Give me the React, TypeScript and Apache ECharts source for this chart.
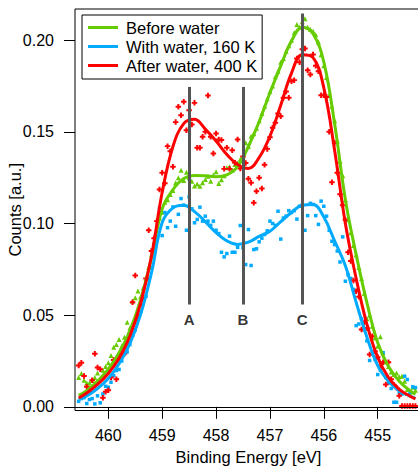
import React, { useEffect, useRef } from "react";
import * as echarts from "echarts";

const FONT = "'Liberation Sans', Arial, Helvetica, sans-serif";

// Measured spectra: energy grid (eV) shared by the three scans
const scanStart = 460.55;
const scanStep = 0.05;
const scanCount = 126;

const beforeWaterCounts = [
  0.0160, 0.0182, 0.0145, 0.0130, 0.0130, 0.0144, 0.0160, 0.0185, 0.0150, 0.0200,
  0.0220, 0.0240, 0.0280, 0.0325, 0.0340, 0.0367, 0.0330, 0.0380, 0.0461, 0.0430,
  0.0576, 0.0595, 0.0632, 0.0600, 0.0650, 0.0700, 0.0760, 0.0830, 0.0900, 0.0960,
  0.1030, 0.1062, 0.1116, 0.1130, 0.1158, 0.1180, 0.1222, 0.1250, 0.1291, 0.1234,
  0.1280, 0.1250, 0.1230, 0.1204, 0.1215, 0.1203, 0.1222, 0.1240, 0.1258, 0.1230,
  0.1265, 0.1282, 0.1218, 0.1238, 0.1260, 0.1304, 0.1309, 0.1290, 0.1322, 0.1330,
  0.1350, 0.1367, 0.1440, 0.1420, 0.1476, 0.1490, 0.1520, 0.1560, 0.1600, 0.1640,
  0.1680, 0.1720, 0.1750, 0.1800, 0.1830, 0.1880, 0.1900, 0.1940, 0.1970, 0.2000,
  0.2040, 0.2086, 0.2070, 0.2100, 0.2117, 0.2070, 0.2060, 0.2049, 0.2030, 0.1990,
  0.1920, 0.1860, 0.1797, 0.1700, 0.1640, 0.1560, 0.1450, 0.1340, 0.1260, 0.1130,
  0.1020, 0.0950, 0.0880, 0.0830, 0.0760, 0.0700, 0.0620, 0.0480, 0.0500, 0.0440,
  0.0376, 0.0330, 0.0382, 0.0295, 0.0245, 0.0220, 0.0190, 0.0176, 0.0185, 0.0164,
  0.0167, 0.0140, 0.0094, 0.0080, 0.0107, 0.0090,
];

const withWaterCounts = [
  0.0030, 0.0045, 0.0050, 0.0018, 0.0040, 0.0045, 0.0016, 0.0060, 0.0022, 0.0070,
  0.0112, 0.0107, 0.0134, 0.0170, 0.0198, 0.0204, 0.0250, 0.0290, 0.0300, 0.0340,
  0.0390, 0.0420, 0.0480, 0.0520, 0.0585, 0.0603, 0.0700, 0.0760, 0.0840, 0.0920,
  0.1082, 0.0934, 0.1060, 0.0977, 0.1013, 0.1090, 0.0985, 0.1050, 0.1136, 0.1100,
  0.0963, 0.1145, 0.1080, 0.1004, 0.1022, 0.1089, 0.1013, 0.1040, 0.1013, 0.0990,
  0.1013, 0.0963, 0.0945, 0.0843, 0.0818, 0.0836, 0.0931, 0.0843, 0.0843, 0.0870,
  0.0989, 0.0868, 0.0776, 0.0967, 0.0771, 0.0858, 0.0862, 0.0900, 0.0920, 0.0940,
  0.0960, 0.1013, 0.1000, 0.0990, 0.1067, 0.0915, 0.1030, 0.1040, 0.1070, 0.1060,
  0.1070, 0.1024, 0.1094, 0.1100, 0.0963, 0.1043, 0.1110, 0.1104, 0.1043, 0.0995,
  0.1122, 0.1094, 0.1040, 0.0963, 0.0903, 0.0885, 0.0850, 0.0790, 0.0927, 0.0685,
  0.0720, 0.0700, 0.0640, 0.0443, 0.0452, 0.0480, 0.0420, 0.0360, 0.0253, 0.0290,
  0.0260, 0.0176, 0.0200, 0.0295, 0.0160, 0.0130, 0.0100, 0.0025, 0.0025, 0.0080,
  0.0070, 0.0167, 0.0149, 0.0080, 0.0109, 0.0105,
];

const afterWaterCounts = [
  0.0225, 0.0240, 0.0168, 0.0110, 0.0085, 0.0145, 0.0290, 0.0215, 0.0205, 0.0050,
  0.0082, 0.0090, 0.0160, 0.0255, 0.0150, 0.0262, 0.0285, 0.0290, 0.0355, 0.0400,
  0.0570, 0.0716, 0.0500, 0.0560, 0.0585, 0.0700, 0.0963, 0.0850, 0.0920, 0.1013,
  0.1185, 0.1277, 0.1220, 0.1422, 0.1394, 0.1310, 0.1553, 0.1637, 0.1590, 0.1664,
  0.1509, 0.1618, 0.1540, 0.1658, 0.1413, 0.1413, 0.1473, 0.1500, 0.1698, 0.1473,
  0.1382, 0.1491, 0.1458, 0.1455, 0.1298, 0.1413, 0.1298, 0.1400, 0.1331, 0.1458,
  0.1300, 0.1365, 0.1330, 0.1244, 0.1222, 0.1113, 0.1176, 0.1250, 0.1191, 0.1320,
  0.1407, 0.1471, 0.1522, 0.1550, 0.1600, 0.1585, 0.1686, 0.1720, 0.1686, 0.1776,
  0.1782, 0.1900, 0.1880, 0.1950, 0.1955, 0.1836, 0.1813, 0.1922, 0.1860, 0.1830,
  0.1700, 0.1699, 0.1690, 0.1500, 0.1225, 0.1440, 0.1277, 0.1160, 0.1100, 0.1020,
  0.0843, 0.0795, 0.0689, 0.0630, 0.0600, 0.0422, 0.0460, 0.0430, 0.0285, 0.0385,
  0.0303, 0.0270, 0.0220, 0.0243, 0.0122, 0.0243, 0.0150, 0.0120, 0.0104, 0.0060,
  0.0005, 0.0005, 0.0005, 0.0005, 0.0005, 0.0005,
];

// Fitted envelopes
const fitEnergy = [
  460.55, 460.4, 460.2, 460.0, 459.8, 459.6, 459.4, 459.2, 459.0, 458.8, 458.6,
  458.4, 458.2, 458.0, 457.8, 457.6, 457.4, 457.2, 457.0, 456.8, 456.6, 456.4,
  456.2, 456.0, 455.8, 455.6, 455.4, 455.2, 455.0, 454.8, 454.6, 454.4, 454.3,
];
const beforeWaterFit = [
  0.0062, 0.0088, 0.0140, 0.0205, 0.0295, 0.0415, 0.0585, 0.0810, 0.1080, 0.1185, 0.1245,
  0.1262, 0.1260, 0.1255, 0.1265, 0.1310, 0.1420, 0.1555, 0.1713, 0.1860, 0.1995, 0.2070,
  0.2035, 0.1880, 0.1545, 0.1130, 0.0830, 0.0567, 0.0350, 0.0220, 0.0140, 0.0088, 0.0068,
];
const withWaterFit = [
  0.0040, 0.0060, 0.0100, 0.0155, 0.0235, 0.0345, 0.0505, 0.0730, 0.1005, 0.1085, 0.1100,
  0.1065, 0.1010, 0.0950, 0.0905, 0.0886, 0.0898, 0.0930, 0.0958, 0.1010, 0.1060, 0.1100,
  0.1104, 0.1035, 0.0905, 0.0770, 0.0570, 0.0380, 0.0225, 0.0140, 0.0088, 0.0058, 0.0046,
];
const afterWaterFit = [
  0.0048, 0.0075, 0.0122, 0.0182, 0.0265, 0.0385, 0.0565, 0.0820, 0.1170, 0.1420, 0.1545,
  0.1568, 0.1515, 0.1450, 0.1376, 0.1322, 0.1300, 0.1360, 0.1476, 0.1645, 0.1820, 0.1920,
  0.1905, 0.1740, 0.1400, 0.1000, 0.0700, 0.0450, 0.0270, 0.0160, 0.0095, 0.0058, 0.0043,
];

// Component markers
const peakNames = ["A", "B", "C"];
const peakEnergies = [458.5, 457.5, 456.4];
const peakLineTops = [0.1745, 0.1745, 0.2145];
const peakLineBottom = 0.0558;
const peakLabelLevel = 0.0476;

const seriesNames = ["Before water", "With water, 160 K", "After water, 400 K"];
const seriesColors = ["#66cc00", "#00aaff", "#ff0000"];

const xTicks = [460, 459, 458, 457, 456, 455];
const yTicks = [0, 0.05, 0.1, 0.15, 0.2];

// Bold plus-sign marker for the 400 K scan
const CROSS = "path://M1.6,0H3.4V1.6H5V3.4H3.4V5H1.6V3.4H0V1.6H1.6Z";

export default function App() {
  const ref = useRef<HTMLDivElement>(null);

  useEffect(() => {
    if (!ref.current) return;
    const chart = echarts.init(ref.current, undefined, { renderer: "svg" });

    const energies = Array.from({ length: scanCount }, (_, i) =>
      Number((scanStart - scanStep * i).toFixed(2))
    );
    const pts = (vals: number[]) => vals.map((v, i) => [energies[i], v]);
    const fit = (vals: number[]) => vals.map((v, i) => [fitEnergy[i], v]);

    const scans = [beforeWaterCounts, withWaterCounts, afterWaterCounts];
    const fits = [beforeWaterFit, withWaterFit, afterWaterFit];
    const symbols = ["triangle", "rect", CROSS];
    const symbolSizes = [5, 3.5, 5.5];

    const scatterSeries = scans.map((vals, k) => ({
      type: "scatter",
      name: seriesNames[k] + " data",
      data: pts(vals),
      symbol: symbols[k],
      symbolSize: symbolSizes[k],
      itemStyle: { color: seriesColors[k], opacity: 1 },
      z: 2,
      silent: true,
    }));

    const lineSeries = fits.map((vals, k) => ({
      type: "line",
      name: seriesNames[k],
      data: fit(vals),
      smooth: 0.4,
      showSymbol: false,
      symbol: "none",
      lineStyle: { color: seriesColors[k], width: 3 },
      itemStyle: { color: seriesColors[k] },
      z: 3,
      silent: true,
      markLine:
        k === 0
          ? {
              silent: true,
              symbol: ["none", "none"],
              label: { show: false },
              lineStyle: { color: "#000", width: 1, type: "solid" },
              data: [{ yAxis: 0 }],
            }
          : undefined,
    }));

    const peakSeries = {
      type: "scatter",
      name: "components",
      data: peakEnergies.map((e) => [e, peakLabelLevel]),
      symbolSize: 0,
      z: 5,
      silent: true,
      label: {
        show: true,
        position: "inside",
        formatter: (p: any) => peakNames[p.dataIndex],
        fontFamily: FONT,
        fontWeight: "bold",
        fontSize: 15,
        color: "#000",
      },
      markLine: {
        silent: true,
        symbol: ["none", "none"],
        label: { show: false },
        lineStyle: { color: "#555555", width: 3, type: "solid" },
        data: peakEnergies.map((e, i) => [
          { coord: [e, peakLineBottom] },
          { coord: [e, peakLineTops[i]] },
        ]),
      },
    };

    chart.setOption({
      animation: false,
      backgroundColor: "#ffffff",
      textStyle: { fontFamily: FONT },
      grid: {
        left: 75,
        top: 9,
        width: 347,
        height: 401.5,
        show: true,
        borderColor: "#000",
        borderWidth: 1,
        backgroundColor: "transparent",
        containLabel: false,
        outerBoundsMode: "none",
      },
      legend: {
        orient: "vertical",
        left: 82,
        top: 15,
        data: seriesNames,
        icon: "rect",
        itemWidth: 30,
        itemHeight: 3,
        itemGap: 0,
        borderColor: "#000",
        borderWidth: 1,
        borderRadius: 0,
        backgroundColor: "#fff",
        padding: [3, 5, 4, 6],
        selectedMode: false,
        textStyle: {
          fontFamily: FONT,
          fontSize: 16.5,
          color: "#000",
          lineHeight: 19,
          padding: [0, 0, 0, 3],
        },
      },
      xAxis: {
        type: "value",
        inverse: true,
        min: 454.178,
        max: 460.618,
        axisLine: { show: false },
        splitLine: { show: false },
        axisTick: {
          show: true,
          inside: false,
          length: 12,
          customValues: xTicks,
          lineStyle: { color: "#000", width: 1 },
        },
        axisLabel: {
          customValues: xTicks,
          color: "#000",
          fontFamily: FONT,
          fontSize: 16,
          margin: 17,
          formatter: (v: number) => String(v),
        },
        name: "Binding Energy [eV]",
        nameLocation: "middle",
        nameGap: 38,
        nameMoveOverlap: false,
        nameTextStyle: { fontFamily: FONT, fontSize: 16.5, color: "#000" },
      },
      yAxis: {
        type: "value",
        min: -0.002,
        max: 0.217,
        axisLine: { show: false },
        splitLine: { show: false },
        axisTick: {
          show: true,
          inside: false,
          length: 11,
          customValues: yTicks,
          lineStyle: { color: "#000", width: 1 },
        },
        axisLabel: {
          customValues: yTicks,
          color: "#000",
          fontFamily: FONT,
          fontSize: 16,
          margin: 21,
          formatter: (v: number) => v.toFixed(2),
        },
        name: "Counts [a.u.]",
        nameLocation: "middle",
        nameGap: 52,
        nameMoveOverlap: false,
        nameTextStyle: { fontFamily: FONT, fontSize: 16.5, color: "#000" },
      },
      series: [...scatterSeries, ...lineSeries, peakSeries],
    });

    return () => chart.dispose();
  }, []);

  return (
    <div
      ref={ref}
      style={{ position: "fixed", left: 0, top: 0, width: 418, height: 467 }}
    />
  );
}
